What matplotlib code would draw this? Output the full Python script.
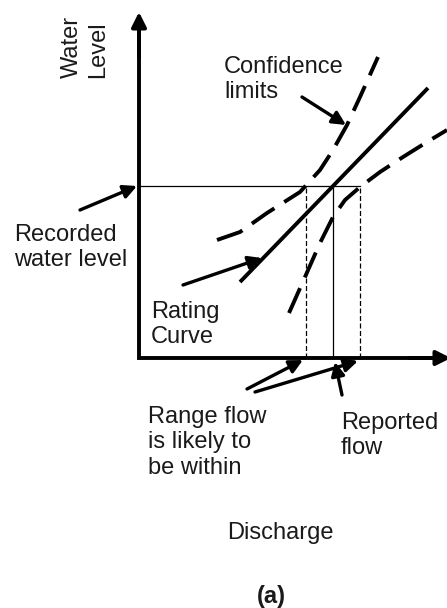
import matplotlib.pyplot as plt

# schematic coordinates: discharge (x) and water level (y), origin at axis corner
rating_q = [101, 289]
rating_h = [76, 270]

upper_q = [78, 101, 128, 161, 181, 194, 208, 221, 239]
upper_h = [118, 126, 145, 166, 188, 208, 233, 261, 301]

lower_q = [150, 166, 181, 194, 206, 221, 241, 264, 288, 308]
lower_h = [45, 81, 115, 141, 158, 171, 186, 201, 216, 228]

recorded_level = 172
reported_flow = 194
range_low = 167
range_high = 221

plt.rcParams['font.family'] = ['Liberation Sans', 'DejaVu Sans']
txt = '#1a1a1a'
fs = 17

fig = plt.figure(figsize=(4.47, 6.08), dpi=100)
ax = fig.add_axes([0, 0, 1, 1])
ax.set_xlim(-139, 308)
ax.set_ylim(-250, 358)
ax.axis('off')

# axes with arrow heads
ax.plot([0, 0, 300], [330, 0, 0], color='black', lw=2.8, solid_joinstyle='miter')
axis_arr = dict(arrowstyle='-|>', lw=2.8, color='black', mutation_scale=22, shrinkA=0, shrinkB=0)
ax.annotate('', xy=(0, 346), xytext=(0, 300), arrowprops=axis_arr, annotation_clip=False)
ax.annotate('', xy=(312, 0), xytext=(270, 0), arrowprops=axis_arr, annotation_clip=False)

# reading lines
ax.plot([0, range_high], [recorded_level, recorded_level], color='black', lw=0.9)
ax.plot([reported_flow, reported_flow], [0, recorded_level], color='black', lw=0.9)
ax.plot([range_low, range_low], [0, recorded_level], color='black', lw=0.9, linestyle=(0, (4, 2)))
ax.plot([range_high, range_high], [0, recorded_level], color='black', lw=0.9, linestyle=(0, (4, 2)))

# rating curve and confidence limits
ax.plot(rating_q, rating_h, color='black', lw=2.8, solid_capstyle='butt')
ax.plot(upper_q, upper_h, color='black', lw=2.8, linestyle=(0, (7, 3)))
ax.plot(lower_q, lower_h, color='black', lw=2.8, linestyle=(0, (7, 3)))

arr = dict(arrowstyle='-|>', lw=2.4, color='black', mutation_scale=20, shrinkA=0, shrinkB=0)
ax.annotate('', xy=(-2, 172), xytext=(-59, 148), arrowprops=arr)
ax.annotate('', xy=(207, 233), xytext=(163, 261), arrowprops=arr)
ax.annotate('', xy=(123, 100), xytext=(44, 73), arrowprops=arr)
ax.annotate('', xy=(164, -2), xytext=(108, -31), arrowprops=arr)
ax.annotate('', xy=(219, -3), xytext=(116, -34), arrowprops=arr)
ax.annotate('', xy=(196, -4), xytext=(203, -37), arrowprops=arr)

ax.text(-54, 311, 'Water\nLevel', rotation=90, ha='center', va='center',
        multialignment='left', fontsize=fs, color=txt)
ax.text(85, 302, 'Confidence\nlimits', ha='left', va='top', fontsize=fs, color=txt)
ax.text(-125, 134, 'Recorded\nwater level', ha='left', va='top', fontsize=fs, color=txt)
ax.text(12, 57, 'Rating\nCurve', ha='left', va='top', fontsize=fs, color=txt)
ax.text(9, -48, 'Range flow\nis likely to\nbe within', ha='left', va='top', fontsize=fs, color=txt)
ax.text(202, -54, 'Reported\nflow', ha='left', va='top', fontsize=fs, color=txt)
ax.text(141, -175, 'Discharge', ha='center', va='center', fontsize=fs, color=txt)
ax.text(132, -239, '(a)', ha='center', va='center', fontsize=fs, color=txt, fontweight='bold')

fig.savefig('out.png', dpi=100)
